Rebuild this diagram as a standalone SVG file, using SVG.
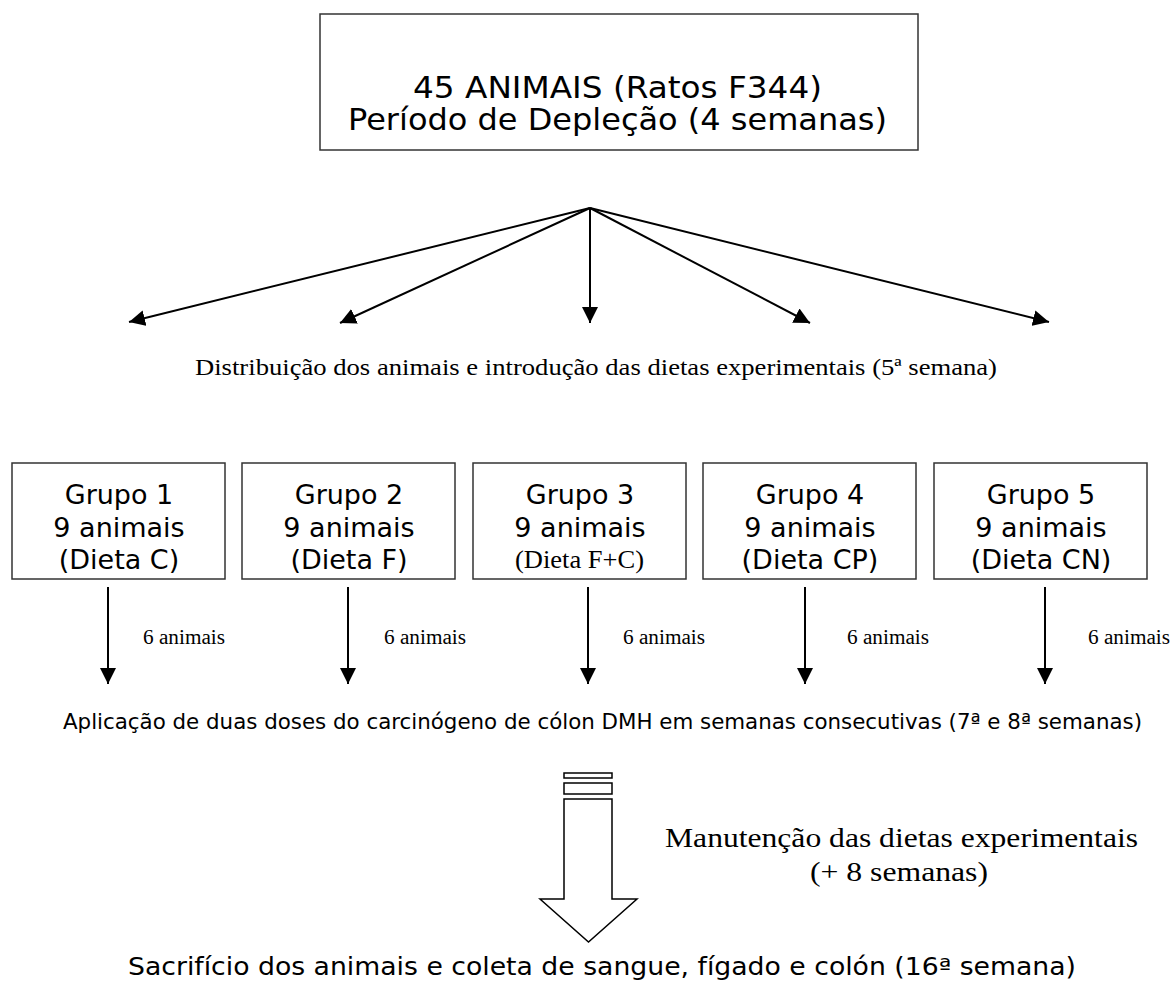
<svg xmlns="http://www.w3.org/2000/svg" width="1172" height="990" viewBox="0 0 1172 990">
<style>
.box{fill:#fff;stroke:#333;stroke-width:1.5}
.sans{font-family:"DejaVu Sans","Liberation Sans",Arial,sans-serif;fill:#000}
.serif{font-family:"Liberation Serif","Times New Roman",serif;fill:#000}
.grp{font-size:27px;text-anchor:middle}
.lbl{font-size:20px}
.con{stroke:#000;stroke-width:2;fill:none;marker-end:url(#ah)}
.blk{fill:#fff;stroke:#000;stroke-width:1.5}
</style>
<defs>
<marker id="ah" markerUnits="userSpaceOnUse" markerWidth="16" markerHeight="16" refX="16" refY="8" orient="auto">
<path d="M0,0 L16,8 L0,16 z" fill="#000"/>
</marker>
</defs>
<rect width="1172" height="990" fill="#fff"/>

<g id="top">
<rect class="box" x="320" y="14" width="598" height="136"/>
<text class="sans" x="413" y="98" font-size="30" textLength="409" lengthAdjust="spacingAndGlyphs">45 ANIMAIS (Ratos F344)</text>
<text class="sans" x="348" y="130" font-size="30" textLength="539" lengthAdjust="spacingAndGlyphs">Período de Depleção (4 semanas)</text>
</g>

<g id="connectors">
<line class="con" x1="590" y1="208" x2="129" y2="322"/>
<line class="con" x1="590" y1="208" x2="340" y2="323"/>
<line class="con" x1="590" y1="208" x2="590" y2="323"/>
<line class="con" x1="590" y1="208" x2="810" y2="323"/>
<line class="con" x1="590" y1="208" x2="1049" y2="322"/>
<line class="con" x1="108" y1="587" x2="108" y2="684"/>
<line class="con" x1="348" y1="587" x2="348" y2="684"/>
<line class="con" x1="588" y1="587" x2="588" y2="684"/>
<line class="con" x1="805" y1="587" x2="805" y2="684"/>
<line class="con" x1="1045" y1="587" x2="1045" y2="684"/>
</g>

<g id="distribuicao">
<text class="serif" x="195" y="375" font-size="23" textLength="802" lengthAdjust="spacingAndGlyphs">Distribuição dos animais e introdução das dietas experimentais (5ª semana)</text>
</g>

<g id="grupo1">
<rect class="box" x="12" y="463" width="213" height="116"/>
<text class="sans grp" x="119" y="504">Grupo 1</text>
<text class="sans grp" x="119" y="537">9 animais</text>
<text class="sans grp" x="119" y="569">(Dieta C)</text>
</g>
<g id="grupo2">
<rect class="box" x="242" y="463" width="213" height="116"/>
<text class="sans grp" x="349" y="504">Grupo 2</text>
<text class="sans grp" x="349" y="537">9 animais</text>
<text class="sans grp" x="349" y="569">(Dieta F)</text>
</g>
<g id="grupo3">
<rect class="box" x="473" y="463" width="213" height="116"/>
<text class="sans grp" x="580" y="504">Grupo 3</text>
<text class="sans grp" x="580" y="537">9 animais</text>
<text class="serif" x="515" y="568" font-size="25" textLength="129" lengthAdjust="spacingAndGlyphs">(Dieta F+C)</text>
</g>
<g id="grupo4">
<rect class="box" x="703" y="463" width="213" height="116"/>
<text class="sans grp" x="810" y="504">Grupo 4</text>
<text class="sans grp" x="810" y="537">9 animais</text>
<text class="sans grp" x="810" y="569">(Dieta CP)</text>
</g>
<g id="grupo5">
<rect class="box" x="934" y="463" width="213" height="116"/>
<text class="sans grp" x="1041" y="504">Grupo 5</text>
<text class="sans grp" x="1041" y="537">9 animais</text>
<text class="sans grp" x="1041" y="569">(Dieta CN)</text>
</g>

<g id="labels">
<text class="serif lbl" x="143" y="644" textLength="82" lengthAdjust="spacingAndGlyphs">6 animais</text>
<text class="serif lbl" x="384" y="644" textLength="82" lengthAdjust="spacingAndGlyphs">6 animais</text>
<text class="serif lbl" x="623" y="644" textLength="82" lengthAdjust="spacingAndGlyphs">6 animais</text>
<text class="serif lbl" x="847" y="644" textLength="82" lengthAdjust="spacingAndGlyphs">6 animais</text>
<text class="serif lbl" x="1088" y="644" textLength="82" lengthAdjust="spacingAndGlyphs">6 animais</text>
</g>

<g id="aplicacao">
<text class="sans" x="63" y="729" font-size="21" textLength="1079" lengthAdjust="spacingAndGlyphs">Aplicação de duas doses do carcinógeno de cólon DMH em semanas consecutivas (7ª e 8ª semanas)</text>
</g>

<g id="seta-bloco">
<rect class="blk" x="564" y="773" width="48" height="5"/>
<rect class="blk" x="564" y="783" width="48" height="11"/>
<path class="blk" d="M564,799 L612,799 L612,899 L637,899 L588.5,942 L540,899 L564,899 Z"/>
</g>

<g id="manutencao">
<text class="serif" x="665" y="847" font-size="28" textLength="473" lengthAdjust="spacingAndGlyphs">Manutenção das dietas experimentais</text>
<text class="serif" x="810" y="881" font-size="28" textLength="178" lengthAdjust="spacingAndGlyphs">(+ 8 semanas)</text>
</g>

<g id="sacrificio">
<text class="sans" x="128" y="975" font-size="24" textLength="948" lengthAdjust="spacingAndGlyphs">Sacrifício dos animais e coleta de sangue, fígado e colón (16ª semana)</text>
</g>
</svg>
